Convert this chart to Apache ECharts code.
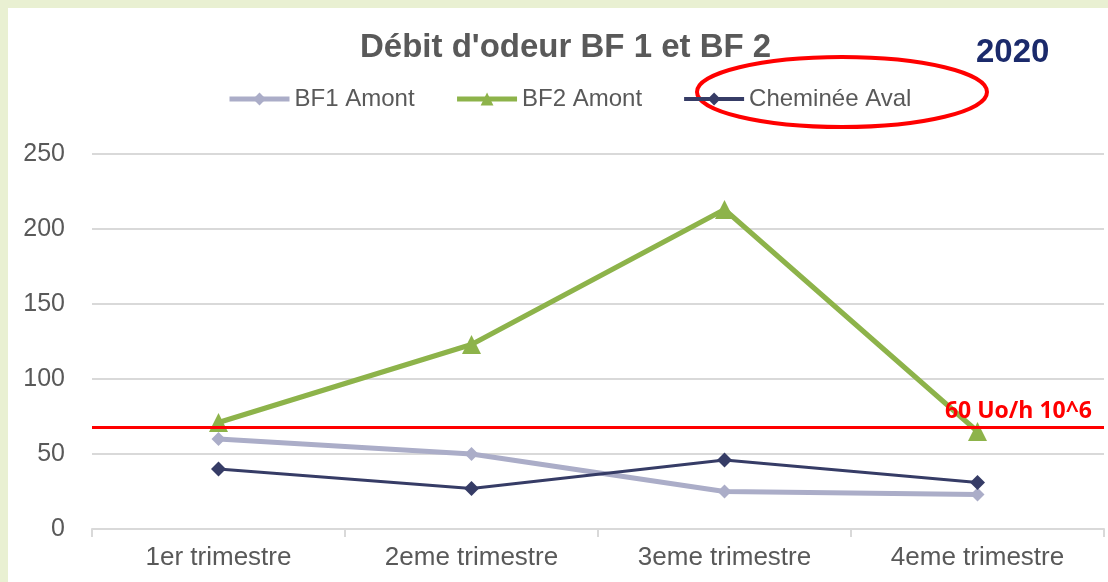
<!DOCTYPE html>
<html>
<head>
<meta charset="utf-8">
<script src="https://cdn.jsdelivr.net/npm/echarts@6/dist/echarts.min.js"></script>
<style>
  html, body { margin: 0; padding: 0; background: #e9f0d2; }
  #chart { position: absolute; left: 8px; top: 8px; width: 1100px; height: 574px; background: #fff; }
</style>
</head>
<body>
<div id="chart"></div>
<script>
// données
const categories = ['1er trimestre', '2eme trimestre', '3eme trimestre', '4eme trimestre'];
const bf1Amont = [60, 50, 25, 23];
const bf2Amont = [71, 123, 213, 65];
const chemineeAval = [40, 27, 46, 31];
const seuil = 68; // ligne rouge (tracée un peu au-dessus de 60)
const seuilLabel = '60 Uo/h 10^6';
const yTicks = [0, 50, 100, 150, 200, 250];

const sans = '"Liberation Sans", Arial, sans-serif';

const chart = echarts.init(document.getElementById('chart'));

const option = {
  animation: false,
  title: {
    text: "Débit d'odeur BF 1 et BF 2",
    left: 347, top: 18,
    textStyle: { fontFamily: sans, fontSize: 33, fontWeight: 'bold', color: '#595959' }
  },
  legend: {
    left: 214, top: 74,
    itemWidth: 60, itemHeight: 16, itemGap: 40,
    textStyle: { fontFamily: sans, fontSize: 24, color: '#595959' },
    data: [
      { name: 'BF1 Amont', lineStyle: { width: 5 } },
      { name: 'BF2 Amont', lineStyle: { width: 5 } },
      { name: 'Cheminée Aval', lineStyle: { width: 4 } }
    ]
  },
  grid: { left: 84, right: 4, top: 146, bottom: 53 },
  xAxis: {
    type: 'category',
    data: categories,
    boundaryGap: true,
    axisLine: { lineStyle: { color: '#d9d9d9', width: 2 } },
    axisTick: { show: true, length: 8, lineStyle: { color: '#d9d9d9', width: 2 } },
    axisLabel: { fontFamily: sans, fontSize: 26, color: '#595959', margin: 16 }
  },
  yAxis: {
    type: 'value',
    min: yTicks[0], max: yTicks[yTicks.length - 1], interval: 50,
    axisLine: { show: false },
    axisTick: { show: false },
    axisLabel: { fontFamily: sans, fontSize: 25, color: '#595959', margin: 27 },
    splitLine: { lineStyle: { color: '#d9d9d9', width: 2 } }
  },
  series: [
    {
      name: 'BF1 Amont', type: 'line', data: bf1Amont,
      symbol: 'diamond', symbolSize: 14,
      lineStyle: { color: '#abadc8', width: 5 },
      itemStyle: { color: '#abadc8' }
    },
    {
      name: 'BF2 Amont', type: 'line', data: bf2Amont,
      symbol: 'triangle', symbolSize: 19,
      lineStyle: { color: '#8db34a', width: 5 },
      itemStyle: { color: '#8db34a' }
    },
    {
      name: 'Cheminée Aval', type: 'line', data: chemineeAval,
      symbol: 'diamond', symbolSize: 15,
      lineStyle: { color: '#363c66', width: 3 },
      itemStyle: { color: '#363c66' },
      markLine: {
        silent: true, symbol: 'none',
        lineStyle: { color: '#ff0000', width: 3, type: 'solid' },
        label: {
          position: 'insideEndTop', formatter: seuilLabel,
          color: '#ff0000', fontFamily: '"Open Sans", sans-serif', fontWeight: 'bold', fontSize: 23,
          distance: [12, 4]
        },
        data: [{ yAxis: seuil }]
      }
    }
  ],
  graphic: [
    {
      type: 'text', left: 968, top: 28,
      style: { text: '2020', fill: '#1b2a6b', font: 'bold 33px ' + sans }
    },
    {
      type: 'ellipse',
      shape: { cx: 834, cy: 84, rx: 145, ry: 35 },
      style: { fill: 'none', stroke: '#ff0000', lineWidth: 4 }
    }
  ]
};

chart.setOption(option);
</script>
</body>
</html>
